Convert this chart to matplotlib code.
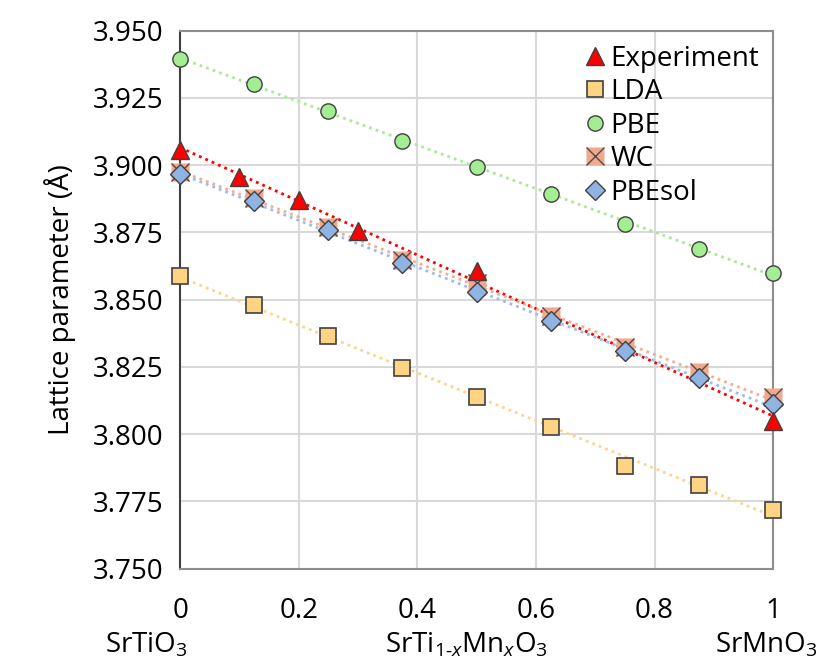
import matplotlib
matplotlib.use('Agg')
import numpy as np
import matplotlib.pyplot as plt
from matplotlib.legend_handler import HandlerTuple

plt.rcParams['font.family'] = ['Open Sans', 'DejaVu Sans']
plt.rcParams['mathtext.fontset'] = 'custom'
plt.rcParams['mathtext.rm'] = 'Open Sans'
plt.rcParams['mathtext.it'] = 'Open Sans:italic'

# composition x in SrTi(1-x)Mn(x)O3
x_exp = [0, 0.1, 0.2, 0.3, 0.5, 1.0]
a_exp = [3.9057, 3.8956, 3.8870, 3.8757, 3.8607, 3.8050]

x_calc = [0, 0.125, 0.25, 0.375, 0.5, 0.625, 0.75, 0.875, 1.0]
a_lda = [3.8588, 3.8479, 3.8366, 3.8245, 3.8138, 3.8027, 3.7881, 3.7811, 3.7720]
a_pbe = [3.9394, 3.9301, 3.9203, 3.9091, 3.8995, 3.8892, 3.8781, 3.8689, 3.8599]
a_wc = [3.8976, 3.8877, 3.8772, 3.8648, 3.8562, 3.8438, 3.8324, 3.8230, 3.8140]
a_pbesol = [3.8968, 3.8865, 3.8760, 3.8636, 3.8530, 3.8419, 3.8308, 3.8209, 3.8113]

fig = plt.figure(figsize=(8.26, 6.66), dpi=100)
ax = fig.add_axes([0.218, 0.146, 0.718, 0.808])

xx = np.array([0, 1.0])


def trend(xs, ys, col):
    p = np.polyfit(xs, ys, 1)
    ax.plot(xx, np.polyval(p, xx), ls=(0, (1, 1.5)), lw=2, color=col, zorder=2)


trend(x_exp, a_exp, '#FF0000')
trend(x_calc, a_lda, '#FFD38A')
trend(x_calc, a_pbe, '#A6EB94')
trend(x_calc, a_wc, '#F2AE95')
trend(x_calc, a_pbesol, '#9CBDE6')

edge = '#404040'
kw = dict(ls='none', clip_on=False)
h_exp, = ax.plot(x_exp, a_exp, marker='^', ms=13, mfc='#FF0000', mec=edge, mew=1, zorder=5, **kw)
h_lda, = ax.plot(x_calc, a_lda, marker='s', ms=11.5, mfc='#FFD384', mec=edge, mew=1.2, zorder=4, **kw)
h_pbe, = ax.plot(x_calc, a_pbe, marker='o', ms=11, mfc='#A3EE93', mec=edge, mew=1, zorder=4, **kw)
h_wc1, = ax.plot(x_calc, a_wc, marker='s', ms=13, mfc='#F0A98D', mec='none', zorder=3, **kw)
h_wc2, = ax.plot(x_calc, a_wc, marker='x', ms=13, mec='#5a4a44', mew=1, zorder=3, **kw)
h_sol, = ax.plot(x_calc, a_pbesol, marker='D', ms=10, mfc='#8FB4E3', mec=edge, mew=1, zorder=4, **kw)

ax.set_xlim(0, 1)
ax.set_ylim(3.75, 3.95)
ax.set_xticks([0, 0.2, 0.4, 0.6, 0.8, 1.0])
ax.set_xticklabels(['0', '0.2', '0.4', '0.6', '0.8', '1'])
ax.set_yticks(np.arange(3.75, 3.9501, 0.025))
ax.set_yticklabels([f'{v:.3f}' for v in np.arange(3.75, 3.9501, 0.025)])
ax.tick_params(axis='both', length=0, labelsize=20)
ax.tick_params(axis='x', pad=20)
ax.tick_params(axis='y', pad=12)
ax.grid(True, color='#D9D9D9', lw=1.5)
ax.set_axisbelow(True)
for s in ['top', 'right', 'bottom']:
    ax.spines[s].set_color('#8c8c8c')
    ax.spines[s].set_linewidth(1.5)
ax.spines['left'].set_color('#404040')
ax.spines['left'].set_linewidth(1.5)
ax.spines['left'].set_zorder(1)

ax.set_ylabel('Lattice parameter (Å)', fontsize=20, labelpad=12)

fig.text(105 / 826, 1 - 645 / 666, 'SrTiO$_\\mathregular{3}$', fontsize=20, va='center', ha='left')
fig.text(385 / 826, 1 - 645 / 666, 'SrTi$_{\\mathregular{1\u2010}\\mathit{x}}$Mn$_\\mathit{x}$O$_\\mathregular{3}$',
         fontsize=20, va='center', ha='left')
fig.text(715 / 826, 1 - 645 / 666, 'SrMnO$_\\mathregular{3}$', fontsize=20, va='center', ha='left')

ax.legend([h_exp, h_lda, h_pbe, (h_wc1, h_wc2), h_sol],
          ['Experiment', 'LDA', 'PBE', 'WC', 'PBEsol'],
          handler_map={tuple: HandlerTuple(ndivide=1)},
          loc='upper right', bbox_to_anchor=(1.0, 1.0), frameon=False, fontsize=20,
          handlelength=0.7, handletextpad=0.2, labelspacing=0.2, borderaxespad=0.1)

fig.savefig('out.png', dpi=100)
